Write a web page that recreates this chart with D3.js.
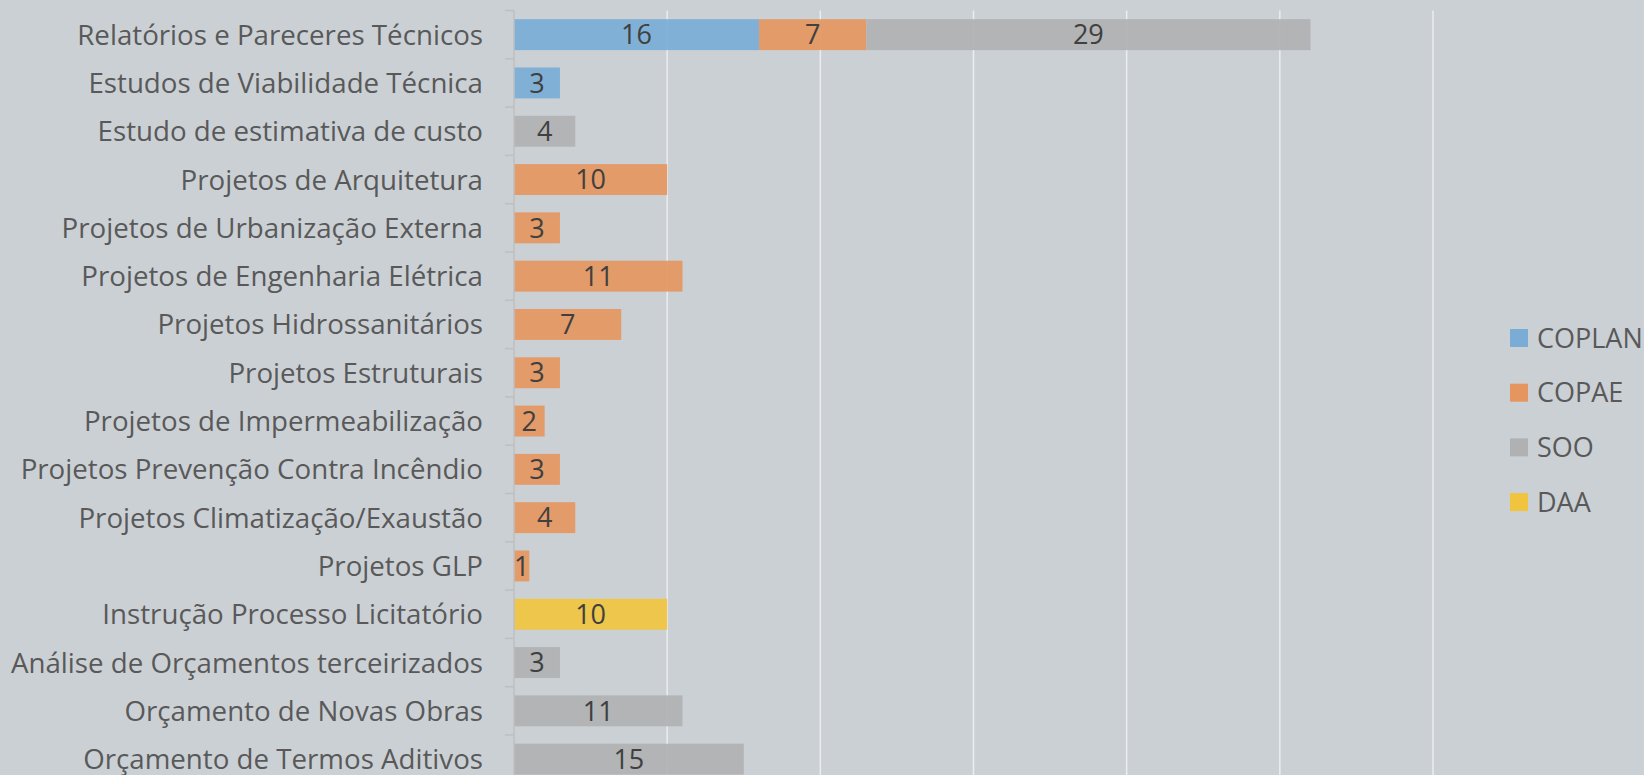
<!DOCTYPE html>
<html>
<head>
<meta charset="utf-8">
<script src="https://cdn.jsdelivr.net/npm/d3@7"></script>
<style>
  html, body { margin: 0; padding: 0; background: #CBD0D5; }
  svg { display: block; }
  text { font-family: "Open Sans", "Segoe UI", sans-serif; }
</style>
</head>
<body>
<svg id="chart" width="1644" height="775"></svg>
<script>
// categories, top to bottom
const categories = [
  "Relatórios e Pareceres Técnicos",
  "Estudos de Viabilidade Técnica",
  "Estudo de estimativa de custo",
  "Projetos de Arquitetura",
  "Projetos de Urbanização Externa",
  "Projetos de Engenharia Elétrica",
  "Projetos Hidrossanitários",
  "Projetos Estruturais",
  "Projetos de Impermeabilização",
  "Projetos Prevenção Contra Incêndio",
  "Projetos Climatização/Exaustão",
  "Projetos GLP",
  "Instrução Processo Licitatório",
  "Análise de Orçamentos terceirizados",
  "Orçamento de Novas Obras",
  "Orçamento de Termos Aditivos"
];

const seriesNames = ["COPLAN", "COPAE", "SOO", "DAA"];

const coplan = [16, 3, 0, 0, 0, 0, 0, 0, 0, 0, 0, 0, 0, 0, 0, 0];
const copae  = [7, 0, 0, 10, 3, 11, 7, 3, 2, 3, 4, 1, 0, 0, 0, 0];
const soo    = [29, 0, 4, 0, 0, 0, 0, 0, 0, 0, 0, 0, 0, 3, 11, 15];
const daa    = [0, 0, 0, 0, 0, 0, 0, 0, 0, 0, 0, 0, 10, 0, 0, 0];

const gridTicks = [10, 20, 30, 40, 50, 60];

const colors = ["#7BACD6", "#E5965F", "#B0B1B3", "#F0C43F"];

// build rows for d3.stack
const rows = categories.map((c, i) => ({
  cat: c, COPLAN: coplan[i], COPAE: copae[i], SOO: soo[i], DAA: daa[i]
}));

const svg = d3.select("#chart");
const W = 1644, H = 775;
const plotL = 514, plotR = 1433, plotT = 10.5, plotB = 783.3;

svg.append("rect").attr("width", W).attr("height", H).attr("fill", "#CBD0D5");

const x = d3.scaleLinear().domain([0, 60]).range([plotL, plotR]);
const y = d3.scaleBand().domain(categories).range([plotT, plotB])
  .paddingInner(0.36).paddingOuter(0.18);
const color = d3.scaleOrdinal().domain(seriesNames).range(colors);

// vertical gridlines
svg.append("g").selectAll("line")
  .data(gridTicks)
  .join("line")
  .attr("x1", d => x(d)).attr("x2", d => x(d))
  .attr("y1", plotT).attr("y2", H)
  .attr("stroke", "#EBEDEF")
  .attr("stroke-width", 1.5);

// stacked bars
const stacked = d3.stack().keys(seriesNames)(rows);

const layers = svg.append("g").selectAll("g")
  .data(stacked)
  .join("g")
  .attr("fill", d => color(d.key));

layers.selectAll("rect")
  .data(d => d.filter(s => s[1] - s[0] > 0))
  .join("rect")
  .attr("x", d => x(d[0]))
  .attr("y", d => y(d.data.cat))
  .attr("width", d => x(d[1]) - x(d[0]))
  .attr("height", y.bandwidth())
  .attr("fill-opacity", 0.92);

// data labels
layers.selectAll("text")
  .data(d => d.filter(s => s[1] - s[0] > 0))
  .join("text")
  .attr("x", d => (x(d[0]) + x(d[1])) / 2)
  .attr("y", d => y(d.data.cat) + y.bandwidth() / 2)
  .attr("dy", "0.36em")
  .attr("text-anchor", "middle")
  .attr("fill", "#404040")
  .attr("font-size", 27)
  .text(d => d[1] - d[0]);

// category axis
const yAxis = svg.append("g").attr("transform", `translate(${plotL},0)`);
yAxis.append("line")
  .attr("x1", 0).attr("x2", 0).attr("y1", plotT).attr("y2", H)
  .attr("stroke", "#BFBFBF").attr("stroke-width", 1.5);

yAxis.selectAll("line.tick")
  .data(d3.range(categories.length + 1))
  .join("line")
  .attr("class", "tick")
  .attr("x1", -9).attr("x2", 0)
  .attr("y1", i => plotT + i * y.step()).attr("y2", i => plotT + i * y.step())
  .attr("stroke", "#BFBFBF").attr("stroke-width", 1.5);

yAxis.selectAll("text")
  .data(categories)
  .join("text")
  .attr("x", -31)
  .attr("y", d => y(d) + y.bandwidth() / 2)
  .attr("dy", "0.36em")
  .attr("text-anchor", "end")
  .attr("fill", "#595959")
  .attr("font-size", 27.7)
  .text(d => d);

// legend
const legend = svg.append("g").attr("transform", "translate(1510,338)");
const item = legend.selectAll("g")
  .data(seriesNames)
  .join("g")
  .attr("transform", (d, i) => `translate(0,${i * 54.7})`);

item.append("rect")
  .attr("x", 0).attr("y", -9)
  .attr("width", 18).attr("height", 18)
  .attr("fill", d => color(d));

item.append("text")
  .attr("x", 27).attr("y", 0)
  .attr("dy", "0.36em")
  .attr("fill", "#595959")
  .attr("font-size", 27)
  .text(d => d);
</script>
</body>
</html>
